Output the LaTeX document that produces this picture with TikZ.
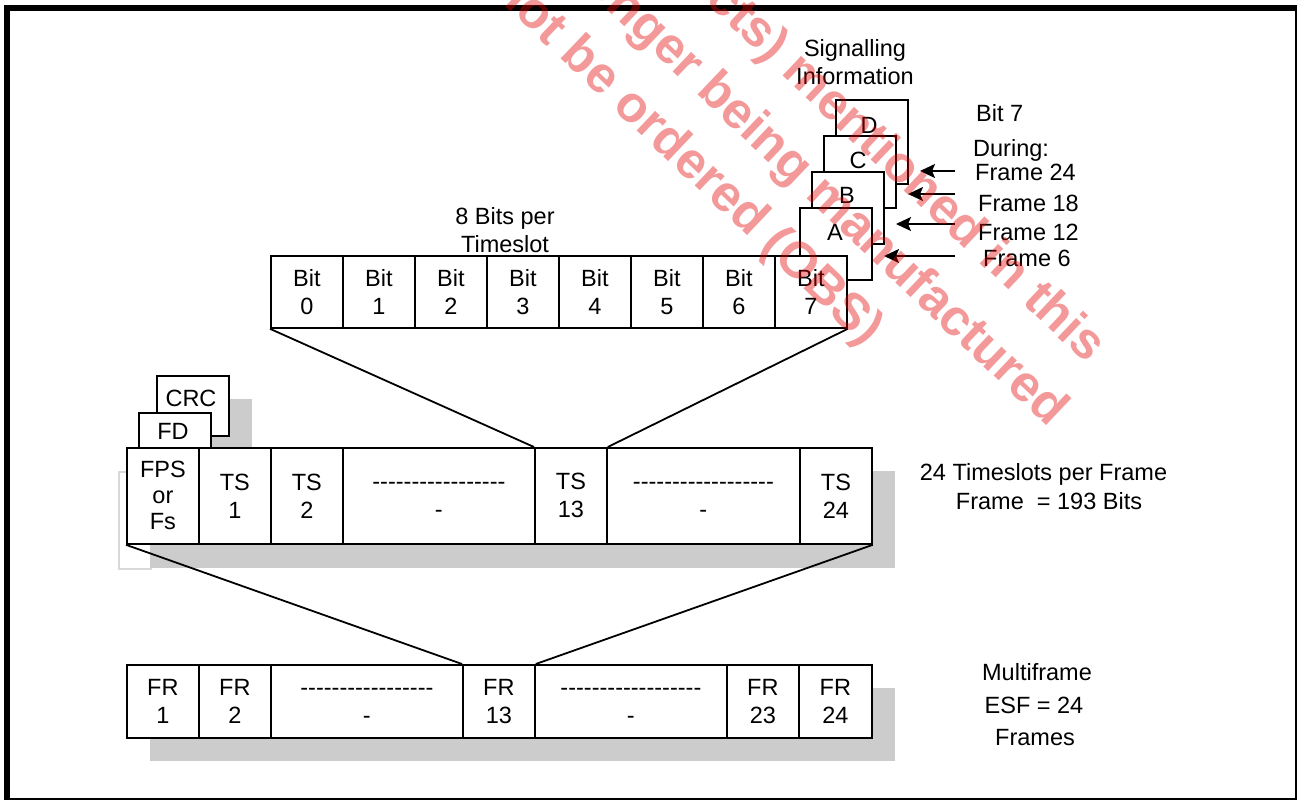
\documentclass[tikz,border=0pt]{standalone}
\usepackage{fontspec}
\setmainfont{Liberation Sans}
\usetikzlibrary{arrows.meta}
\newcommand\lab{\fontsize{23.5pt}{28pt}\selectfont}
\newcommand\dsh{-{}}
\newcommand\dseventeen{\dsh\dsh\dsh\dsh\dsh\dsh\dsh\dsh\dsh\dsh\dsh\dsh\dsh\dsh\dsh\dsh\dsh}
\newcommand\deighteen{\dseventeen\dsh}
\begin{document}
\begin{tikzpicture}[x=1pt,y=-1pt,
  cell/.style={draw, fill=white, line width=1.8pt, inner sep=0pt, minimum height=72pt, minimum width=72pt, anchor=north west, align=center, font=\lab},
  tscell/.style={cell, minimum height=96pt},
  frcell/.style={cell, minimum height=73pt},
  plain/.style={draw, fill=white, line width=1.8pt, inner sep=0pt, anchor=north west},
  txt/.style={inner sep=0pt, font=\lab},
  shadow/.style={fill=black!20, draw=none, inner sep=0pt, anchor=north west},
  arr/.style={-{Stealth[length=15pt,width=14pt,inset=3pt]}, line width=1.8pt},
  conn/.style={line width=1.8pt},
  wm/.style={inner sep=0pt, rotate=-43.5, anchor=east, text=red!90!black, text opacity=0.4, font=\fontsize{51pt}{56pt}\selectfont\bfseries}]
\useasboundingbox (0,0) rectangle (1298,800);
\fill[white] (0,0) rectangle (1298,800);
% frame
\draw[line width=6pt] (4,8) -- (1297,8);
\draw[line width=6pt] (7,5) -- (7,800);
\draw[line width=2.5pt] (1296,8) -- (1296,800);
\draw[line width=2pt] (7,799) -- (1297,799);

% signalling boxes
\node[plain, minimum width=72pt, minimum height=84pt] (boxD) at (835,99) {};
\node[txt] (lD) at (869,125) {D};
\node[plain, minimum width=72pt, minimum height=72pt] (boxC) at (823,135) {};
\node[txt] (lC) at (858,160) {C};
\node[plain, minimum width=72pt, minimum height=72pt] (boxB) at (811,171) {};
\node[txt] (lB) at (847,195) {B};
\node[plain, minimum width=72pt, minimum height=72pt] (boxA) at (799,207) {};
\node[txt] (lA) at (835,232) {A};

\node[txt, align=center] (sig) at (855,61.8) {Signalling\\Information};
\node[txt, align=center] (bpt) at (505,230.4) {8 Bits per\\Timeslot};

% bit row
\foreach \i in {0,...,7}{
  \node[cell] (b\i) at ({270+72*\i},255) {Bit\\\i};
}

% right labels
\node[txt, anchor=base west] (bit7) at (976,121.4) {Bit 7};
\node[txt, anchor=base west] (during) at (973,156) {During:};
\node[txt, anchor=base west] (f24) at (975,180) {Frame 24};
\node[txt, anchor=base west] (f18) at (978,211.4) {Frame 18};
\node[txt, anchor=base west] (f12) at (978,240) {Frame 12};
\node[txt, anchor=base west] (f6) at (983,266.4) {Frame 6};

\coordinate (s24) at (955,171);  \coordinate (t24) at (920,171);
\coordinate (s18) at (955,194);  \coordinate (t18) at (908,194);
\coordinate (s12) at (955,224);  \coordinate (t12) at (896,224);
\coordinate (s6) at (955,256);   \coordinate (t6) at (884,256);
\draw[arr] (s24) -- (t24);
\draw[arr] (s18) -- (t18);
\draw[arr] (s12) -- (t12);
\draw[arr] (s6) -- (t6);

% CRC / FD
\node[shadow, minimum width=72pt, minimum height=60pt] (crcsh) at (180,399) {};
\node[plain, minimum width=72pt, minimum height=60pt] (crc) at (156,375) {};
\node[txt, anchor=base] (crct) at (191,406.4) {CRC};
\node[plain, minimum width=72pt, minimum height=38pt] (fd) at (138,412) {};
\node[txt, anchor=base] (fdt) at (173,439.4) {FD};

% TS row
\node[draw=black!15, line width=1.5pt, inner sep=0pt, anchor=north west, minimum width=32pt, minimum height=97pt] (ghost) at (118,471) {};
\node[shadow, minimum width=745pt, minimum height=97pt] (tssh) at (150,471) {};
\node[tscell] (ts0) at (126,447) {FPS\\[-2pt]or\\[-2pt]Fs};
\node[tscell] (ts1) at (198,447) {TS\\1};
\node[tscell] (ts2) at (270,447) {TS\\2};
\node[tscell, minimum width=192pt] (tsd1) at (342,447) {\vphantom{T}\dseventeen\\\vphantom{T}\dsh};
\node[tscell] (ts13) at (534,447) {TS\\13};
\node[tscell, minimum width=193pt] (tsd2) at (606,447) {\vphantom{T}\deighteen\\\vphantom{T}\dsh};
\node[tscell] (ts24) at (799,447) {TS\\24};

\node[txt, anchor=base] (tpf) at (1043.5,480.4) {24 Timeslots per Frame};
\node[txt, anchor=base] (fbits) at (1049,509.4) {Frame\ \ = 193 Bits};

% FR row
\node[shadow, minimum width=745pt, minimum height=73pt] (frsh) at (150,688) {};
\node[frcell] (fr1) at (126,664) {FR\\1};
\node[frcell] (fr2) at (198,664) {FR\\2};
\node[frcell, minimum width=192pt] (frd1) at (270,664) {\vphantom{T}\dseventeen\\\vphantom{T}\dsh};
\node[frcell] (fr13) at (462,664) {FR\\13};
\node[frcell, minimum width=192pt] (frd2) at (534,664) {\vphantom{T}\deighteen\\\vphantom{T}\dsh};
\node[frcell] (fr23) at (726,664) {FR\\23};
\node[frcell, minimum width=73pt] (fr24) at (798,664) {FR\\24};

\node[txt, anchor=base] (mf) at (1037,680) {Multiframe};
\node[txt, anchor=base] (esf) at (1034,713.4) {ESF = 24};
\node[txt, anchor=base] (frs) at (1035,745) {Frames};

% connectors
\draw[conn] (b0.south west) -- (ts13.north west);
\draw[conn] (b7.south east) -- (ts13.north east);
\draw[conn] (ts0.south west) -- (fr13.north west);
\draw[conn] (ts24.south east) -- (fr13.north east);

% watermark
\begin{scope}
\clip (0,0) rectangle (1298,800);
\node[wm] (wm1) at (874,338) {not be ordered (OBS)};
\node[wm] (wm2) at (1058,419) {longer being manufactured};
\node[wm] (wm3) at (1096,355) {(products) mentioned in this};
\end{scope}
\end{tikzpicture}
\end{document}
